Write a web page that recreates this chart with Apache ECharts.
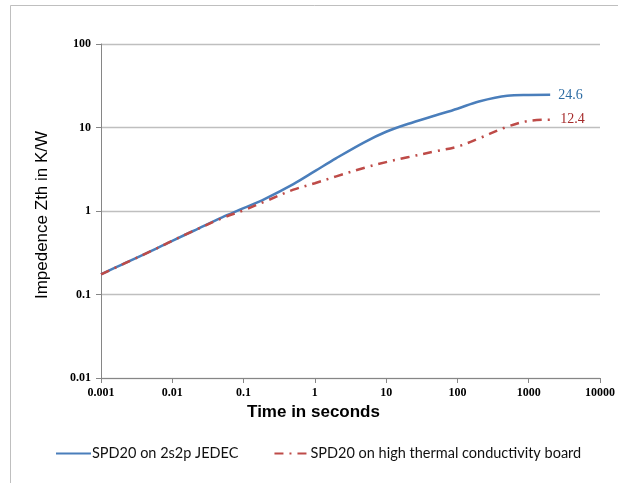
<!DOCTYPE html>
<html>
<head>
<meta charset="utf-8">
<script src="https://cdn.jsdelivr.net/npm/echarts@6/dist/echarts.min.js"></script>
<style>
  html, body { margin: 0; padding: 0; background: #fff; }
  #chart { width: 618px; height: 483px; }
</style>
</head>
<body>
<div id="chart"></div>
<script>
// Transient thermal impedance vs. time (log-log)
const times = [0.001, 0.002, 0.005, 0.01, 0.02, 0.05, 0.1, 0.2, 0.5, 1, 2, 5, 10, 20, 50, 100, 200, 500, 1000, 2000];
const jedecZth = [0.174, 0.23, 0.33, 0.44, 0.58, 0.84, 1.08, 1.4, 2.1, 3.0, 4.3, 6.7, 8.9, 11.0, 14.0, 16.8, 20.5, 24.0, 24.5, 24.6];
const highKZth = [0.174, 0.23, 0.33, 0.44, 0.58, 0.82, 1.02, 1.3, 1.8, 2.15, 2.6, 3.3, 3.85, 4.4, 5.2, 5.9, 7.4, 10.2, 12.0, 12.4];
const seriesNames = ['SPD20 on 2s2p JEDEC', 'SPD20 on high thermal conductivity board'];
const xTickLabels = ['0.001', '0.01', '0.1', '1', '10', '100', '1000', '10000'];
const yTickLabels = ['0.01', '0.1', '1', '10', '100'];

const pairs = (ys) => times.map((t, i) => [t, ys[i]]);
const labelFor = (list) => (v) => {
  const k = list.find(s => Math.abs(parseFloat(s) - v) / v < 1e-6);
  return k !== undefined ? k : '';
};

const chart = echarts.init(document.getElementById('chart'));
chart.setOption({
  animation: false,
  backgroundColor: '#fff',
  graphic: [{
    type: 'rect',
    shape: { x: 10.5, y: 5.5, width: 700, height: 600 },
    style: { fill: 'none', stroke: '#BFBFBF', lineWidth: 1 },
    silent: true
  }],
  grid: { left: 101, right: 18, top: 44, bottom: 105 },
  xAxis: {
    type: 'log', logBase: 10, min: 0.001, max: 10000,
    name: 'Time in seconds', nameLocation: 'middle', nameGap: 25,
    nameTextStyle: { fontFamily: 'Liberation Sans', fontWeight: 'bold', fontSize: 17, color: '#000', padding: [0, 74, 0, 0] },
    axisLine: { lineStyle: { color: '#868686', width: 1 } },
    axisTick: { show: true, length: 5, lineStyle: { color: '#868686' } },
    minorTick: { show: false },
    splitLine: { show: false },
    axisLabel: { margin: 9, fontFamily: 'Liberation Serif', fontWeight: 'bold', fontSize: 12, color: '#000', formatter: labelFor(xTickLabels) }
  },
  yAxis: {
    type: 'log', logBase: 10, min: 0.01, max: 100,
    name: 'Impedence Zth in K/W', nameLocation: 'middle', nameGap: 50,
    nameTextStyle: { fontFamily: 'Liberation Sans', fontSize: 17, color: '#000', padding: [0, 8, 0, 0] },
    axisLine: { show: true, lineStyle: { color: '#868686', width: 1 } },
    axisTick: { show: true, length: 5, lineStyle: { color: '#868686' } },
    splitLine: { show: true, lineStyle: { color: '#BFBFBF', width: 1.3 } },
    axisLabel: { margin: 10, fontFamily: 'Liberation Serif', fontWeight: 'bold', fontSize: 12, color: '#000', formatter: labelFor(yTickLabels) }
  },
  legend: {
    bottom: 22, left: 55, padding: 0,
    itemWidth: 35, itemHeight: 10, itemGap: 35,
    itemStyle: { opacity: 0 },
    textStyle: { fontFamily: 'Lato', fontSize: 14.5, color: '#111', padding: [0, 0, 0, -4] },
    data: seriesNames
  },
  series: [
    {
      name: seriesNames[0], type: 'line', data: pairs(jedecZth),
      smooth: 0.35, symbol: 'none',
      lineStyle: { color: '#4A7EBB', width: 2.5 },
      itemStyle: { color: '#4A7EBB' },
      endLabel: { show: true, distance: 8, formatter: (p) => p.value[1].toFixed(1), fontFamily: 'Liberation Serif', fontSize: 14, color: '#2E6DA4' }
    },
    {
      name: seriesNames[1], type: 'line', data: pairs(highKZth),
      smooth: 0.35, symbol: 'none',
      lineStyle: { color: '#BE4B48', width: 2.5, type: [9, 6, 2, 6] },
      itemStyle: { color: '#BE4B48' },
      endLabel: { show: true, distance: 10, formatter: (p) => p.value[1].toFixed(1), fontFamily: 'Liberation Serif', fontSize: 14, color: '#A52A2A' }
    }
  ]
});
</script>
</body>
</html>
